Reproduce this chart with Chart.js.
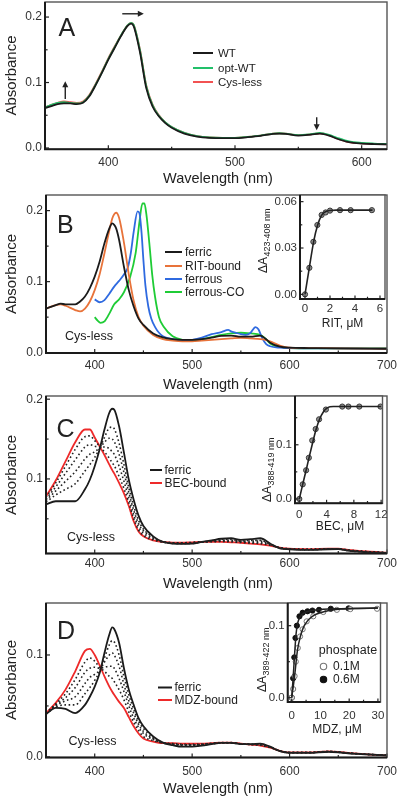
<!DOCTYPE html>
<html><head><meta charset="utf-8">
<script src="https://cdn.jsdelivr.net/npm/chart.js@4.4.1/dist/chart.umd.min.js"></script>
<style>
html,body{margin:0;padding:0;background:#fff;}
body{width:400px;height:800px;position:relative;overflow:hidden;}
canvas{position:absolute;left:0;top:0;}
</style></head><body>
<canvas id="cA" width="400" height="800"></canvas>
<canvas id="cB" width="400" height="800"></canvas>
<canvas id="cC" width="400" height="800"></canvas>
<canvas id="cD" width="400" height="800"></canvas>
<canvas id="iB" width="400" height="800"></canvas>
<canvas id="iC" width="400" height="800"></canvas>
<canvas id="iD" width="400" height="800"></canvas>
<script>
// ================= DATA =================
// Panel A
const wlA = [350,355,360,365,370,375,380,385,390,395,400,405,410,415,418,420,425,430,435,440,445,450,460,470,480,490,500,510,520,530,535,540,550,560,567,575,580,590,600,610,620];
const aWT = [.061,.064,.067,.068,.068,.067,.069,.079,.096,.115,.135,.153,.171,.186,.190,.186,.146,.091,.063,.048,.038,.031,.022,.0175,.0155,.015,.015,.0165,.0185,.0215,.022,.0215,.019,.0205,.022,.0185,.0145,.0088,.0068,.006,.0056];
const aOptWT = [.062,.066,.069,.070,.069,.068,.070,.080,.097,.116,.136,.154,.172,.187,.191,.188,.149,.094,.065,.049,.039,.032,.023,.018,.016,.0155,.0155,.017,.019,.022,.0225,.022,.0197,.0212,.023,.0195,.016,.010,.0078,.0068,.0062];
const aCysLess = [.062,.066,.069,.071,.070,.069,.071,.081,.098,.117,.137,.155,.172,.187,.191,.188,.150,.095,.066,.050,.039,.032,.023,.018,.016,.0155,.0155,.017,.019,.022,.0225,.022,.0195,.021,.0225,.019,.015,.009,.007,.006,.0057];
const xTicksA = [400,500,600];
const yTicksA = [0,0.1,0.2];

// Panel B
const wlB = [350,360,365,370,380,385,390,395,400,405,410,415,418,420,422,425,430,435,440,445,450,460,470,480,490,500,510,520,530,540,550,560,570,575,580,590,600,620,650,700];
const bFerric = [.062,.067,.069,.068,.068,.072,.079,.091,.107,.128,.154,.175,.182,.180,.175,.159,.121,.088,.065,.048,.039,.027,.0216,.019,.018,.018,.019,.021,.0235,.024,.0225,.0225,.024,.020,.014,.0085,.007,.0065,.006,.0055];
const bRIT = [.062,.067,.068,.066,.060,.058,.062,.072,.088,.110,.140,.172,.189,.195,.197,.190,.155,.110,.073,.050,.038,.025,.019,.017,.016,.016,.017,.018,.019,.020,.021,.020,.019,.018,.016,.010,.007,.0065,.006,.0055];
const wlFerrous = [400,405,410,415,420,425,430,434,437,440,444,446,448,450,452,455,458,462,466,470,480,490,500,510,520,530,537,540,545,550,555,560,565,568,572,576,580,590,600,650,700];
const bFerrous = [.075,.071,.074,.083,.093,.101,.110,.120,.140,.170,.199,.196,.170,.130,.095,.065,.048,.036,.028,.023,.019,.017,.018,.021,.026,.029,.032,.030,.028,.026,.025,.028,.036,.033,.020,.012,.009,.007,.0065,.006,.0055];
const wlFerrousCO = [400,403,406,410,415,420,425,430,436,442,446,449,451,453,456,459,462,466,471,480,490,500,510,520,530,540,550,560,570,575,580,590,600,650,700];
const bFerrousCO = [.050,.045,.042,.044,.055,.068,.075,.085,.105,.140,.185,.210,.210,.195,.155,.110,.078,.050,.036,.023,.018,.017,.019,.022,.025,.027,.028,.027,.025,.020,.013,.008,.0065,.006,.006];
const xTicksBCD = [400,500,600,700];
const yTicksB = [0,0.1,0.2];
// inset B (RIT titration)
const ritConc = [0,0.35,0.67,0.99,1.33,1.65,2.0,2.8,3.65,5.35];
const ritDA = [0,0.0172,0.034,0.0449,0.0514,0.053,0.0542,0.0545,0.0545,0.0545];
const ritFitConc = [0,0.35,0.7,1.0,1.3,1.6,2.0,2.5,3,4,5.4];
const ritFitDA = [0,0.0175,0.0345,0.0445,0.0508,0.0533,0.0543,0.0545,0.0545,0.0545,0.0545];
const xTicksIB = [0,2,4,6];
const yTicksIB = [0,0.03,0.06];

// Panel C
const wlC = [350,360,370,380,390,395,400,405,410,415,418,420,425,430,435,440,445,450,460,470,480,490,500,510,520,530,540,550,560,570,580,590,600,620,640,650,660,680,700];
const cFerric = [.068,.072,.072,.072,.087,.099,.116,.137,.162,.183,.188,.187,.166,.133,.099,.074,.054,.041,.028,.021,.019,.0185,.019,.021,.023,.025,.0256,.0235,.0244,.0256,.019,.013,.0118,.011,.0118,.012,.010,.008,.0072];
const cStep1 = [.071,.080,.087,.094,.110,.118,.127,.138,.152,.164,.165,.163,.145,.118,.089,.066,.048,.037,.027,.021,.019,.019,.019,.021,.022,.024,.024,.022,.023,.023,.018,.013,.012,.011,.012,.012,.010,.008,.007];
const cStep2 = [.073,.085,.097,.109,.125,.131,.134,.139,.146,.151,.150,.147,.131,.108,.083,.061,.044,.035,.026,.021,.0195,.019,.020,.021,.022,.023,.023,.022,.022,.022,.018,.0135,.012,.0115,.012,.012,.0105,.0085,.0073];
const cStep3 = [.075,.090,.107,.124,.140,.143,.141,.140,.140,.138,.134,.131,.116,.097,.076,.055,.040,.032,.025,.021,.020,.0195,.020,.021,.0216,.022,.022,.021,.020,.020,.017,.0137,.0123,.0117,.0123,.0124,.0107,.0087,.0074];
const cStep4 = [.077,.095,.116,.137,.153,.154,.148,.141,.134,.126,.120,.117,.103,.088,.070,.050,.036,.029,.0235,.021,.020,.020,.0204,.021,.0212,.0215,.021,.0204,.0196,.0189,.0168,.0139,.0124,.0119,.0124,.0125,.0109,.0089,.0075];
const cBEC = [.078,.098,.122,.146,.162,.162,.152,.141,.130,.118,.111,.107,.095,.082,.066,.047,.034,.028,.023,.021,.020,.020,.0205,.021,.021,.021,.0205,.020,.019,.018,.0165,.014,.0125,.012,.0125,.0125,.011,.009,.0075];
const yTicksC = [0.1,0.2];
// inset C (BEC titration)
const becConc = [0,0.5,1,1.4,1.9,2.4,2.9,3.9,6.3,7.2,8.8,11.9];
const becDA = [0,0.027,0.053,0.076,0.108,0.129,0.147,0.165,0.1705,0.1705,0.1705,0.1705];
const becFitConc = [0,0.5,1,1.5,2,2.5,3,3.5,4,4.5,5,6,12];
const becFitDA = [0,0.027,0.053,0.080,0.106,0.130,0.148,0.160,0.167,0.170,0.1705,0.1705,0.1705];
const xTicksIC = [0,4,8,12];
const yTicksIC = [0,0.1];

// Panel D
const wlD = wlC;
const dFerric = [.042,.048,.047,.043,.051,.059,.069,.082,.102,.120,.127,.1255,.112,.087,.066,.051,.038,.030,.020,.014,.0115,.010,.010,.011,.0125,.0138,.0138,.0125,.0125,.013,.010,.0056,.004,.004,.005,.0045,.0035,.0025,.0015];
const dStep1 = [.042,.049,.051,.051,.062,.068,.075,.084,.097,.110,.114,.113,.100,.079,.061,.047,.035,.028,.019,.014,.0119,.0106,.0106,.0114,.0127,.0138,.0138,.0126,.0124,.0126,.0098,.0057,.0041,.0041,.0051,.0046,.0036,.0025,.0015];
const dStep2 = [.042,.050,.055,.059,.072,.078,.081,.085,.093,.100,.102,.100,.089,.071,.055,.043,.032,.025,.018,.0138,.0123,.0112,.0112,.0118,.0129,.0139,.0139,.0127,.0123,.0122,.0096,.0058,.0042,.0042,.0052,.0047,.0037,.0025,.0015];
const dStep3 = [.043,.051,.058,.068,.083,.087,.088,.087,.088,.089,.089,.087,.077,.064,.050,.038,.029,.023,.017,.0137,.0127,.0118,.0118,.0122,.0131,.0139,.0139,.0128,.0122,.0118,.0094,.0058,.0043,.0043,.0053,.0048,.0038,.0025,.0015];
const dStep4 = [.043,.052,.062,.076,.093,.097,.094,.088,.084,.079,.077,.074,.066,.056,.044,.034,.026,.020,.016,.0136,.0131,.0124,.0124,.0126,.0133,.014,.014,.0129,.0121,.0114,.0092,.0059,.0044,.0044,.0054,.0049,.0039,.0025,.0015];
const dMDZ = [.043,.053,.066,.084,.104,.106,.100,.090,.079,.069,.064,.061,.054,.048,.039,.030,.023,.018,.015,.0135,.0135,.013,.013,.013,.0135,.014,.014,.013,.012,.011,.009,.006,.0045,.0045,.0055,.005,.004,.0025,.0015];
const yTicksD = [0,0.1];
// inset D (MDZ titration, two phosphate concentrations)
const mdzConc01 = [0,0.5,1,1.4,2.1,2.9,3.8,5.2,7.5,11,15.7,20.4,29.7];
const mdzDA01 = [0,0.012,0.030,0.050,0.069,0.085,0.095,0.106,0.113,0.119,0.122,0.123,0.1235];
const mdzConc06 = [0,0.5,0.9,1.3,1.8,2.7,3.8,5.5,7.2,9.5,13.6,19.8];
const mdzDA06 = [0,0.027,0.056,0.083,0.100,0.113,0.118,0.120,0.121,0.122,0.1235,0.124];
const mdzFitConc01 = [0,1,2,3,4,5,6,8,10,13,17,22,30];
const mdzFitDA01 = [0,0.030,0.066,0.085,0.097,0.104,0.109,0.115,0.118,0.121,0.123,0.124,0.1245];
const mdzFitConc06 = [0,0.5,1,1.5,2,2.5,3,4,5,7,10,15,20,30];
const mdzFitDA06 = [0,0.028,0.060,0.088,0.102,0.109,0.113,0.117,0.119,0.121,0.1225,0.1235,0.124,0.1245];
const xTicksID = [0,10,20,30];
const yTicksID = [0,0.1];

// ================= RENDERING =================
const FONT = "'Liberation Sans', Arial, Helvetica, sans-serif";
Chart.defaults.font.family = FONT;
Chart.defaults.color = '#2a2a2a';
const pts = (xs, ys) => xs.map((x, i) => ({x: x, y: ys[i]}));

function drawItem(c, t, xs, ys) {
  c.save();
  c.fillStyle = t.color || '#222';
  c.strokeStyle = t.color || '#222';
  if (t.k === 'text') {
    c.font = (t.size || 12) + 'px ' + FONT;
    c.textAlign = t.align || 'left';
    c.textBaseline = t.base || 'middle';
    c.translate(t.x, t.y);
    if (t.rot) c.rotate(t.rot * Math.PI / 180);
    c.fillText(t.t, 0, 0);
  } else if (t.k === 'dA') {
    c.translate(t.x, t.y);
    c.rotate(-Math.PI / 2);
    c.textAlign = 'left'; c.textBaseline = 'alphabetic';
    c.font = '12px ' + FONT;
    c.fillText('ΔA', 0, 0);
    const w = c.measureText('ΔA').width;
    c.font = '9px ' + FONT;
    c.fillText(t.sub, w + 0.5, 3);
  } else if (t.k === 'leg') {
    c.lineWidth = 2;
    c.beginPath(); c.moveTo(t.x1, t.y); c.lineTo(t.x2, t.y); c.stroke();
    c.fillStyle = '#222';
    c.font = (t.size || 12) + 'px ' + FONT;
    c.textAlign = 'left'; c.textBaseline = 'middle';
    c.fillText(t.t, t.tx, t.y + 0.5);
  } else if (t.k === 'arrow') {
    const x1 = xs.getPixelForValue(t.x1), y1 = ys.getPixelForValue(t.y1);
    const x2 = xs.getPixelForValue(t.x2), y2 = ys.getPixelForValue(t.y2);
    const ang = Math.atan2(y2 - y1, x2 - x1), L = 6, H = 3;
    c.lineWidth = 1.4;
    c.beginPath(); c.moveTo(x1, y1);
    c.lineTo(x2 - Math.cos(ang) * L * 0.8, y2 - Math.sin(ang) * L * 0.8); c.stroke();
    c.beginPath();
    c.moveTo(x2, y2);
    c.lineTo(x2 - Math.cos(ang) * L - Math.sin(ang) * H, y2 - Math.sin(ang) * L + Math.cos(ang) * H);
    c.lineTo(x2 - Math.cos(ang) * L + Math.sin(ang) * H, y2 - Math.sin(ang) * L - Math.cos(ang) * H);
    c.closePath(); c.fill();
  } else if (t.k === 'circle') {
    c.beginPath(); c.arc(t.x, t.y, t.r, 0, Math.PI * 2);
    c.fillStyle = t.fill; c.fill();
    c.lineWidth = 1.1; c.strokeStyle = t.stroke; c.stroke();
  }
  c.restore();
}

const deco = {
  id: 'deco',
  beforeDraw(chart, args, o) {
    if (!o.whiteBg) return;
    const a = chart.chartArea, c = chart.ctx;
    c.save(); c.fillStyle = '#fff';
    c.fillRect(a.left, a.top, a.right - a.left, a.bottom - a.top);
    c.restore();
  },
  afterDraw(chart, args, o) {
    const c = chart.ctx, a = chart.chartArea, xs = chart.scales.x, ys = chart.scales.y;
    c.save();
    const seg = (x1, y1, x2, y2) => { c.beginPath(); c.moveTo(x1, y1); c.lineTo(x2, y2); c.stroke(); };
    c.strokeStyle = '#222'; c.lineWidth = 1.2;
    const tl = o.tl || 4;
    (o.xMajor || []).forEach(v => { const p = xs.getPixelForValue(v); seg(p, a.bottom, p, a.bottom - tl); });
    (o.xMinor || []).forEach(v => { const p = xs.getPixelForValue(v); seg(p, a.bottom, p, a.bottom - tl * 0.65); });
    (o.yMajor || []).forEach(v => { const p = ys.getPixelForValue(v); seg(a.left, p, a.left + tl, p); });
    (o.yMinor || []).forEach(v => { const p = ys.getPixelForValue(v); seg(a.left, p, a.left + tl * 0.65, p); });
    c.strokeStyle = '#555'; c.lineWidth = 1.4;
    c.strokeRect(a.left, a.top, a.right - a.left, a.bottom - a.top);
    c.strokeStyle = '#1a1a1a'; c.lineWidth = 2;
    c.beginPath(); c.moveTo(a.left, a.top); c.lineTo(a.left, a.bottom); c.lineTo(a.right, a.bottom); c.stroke();
    (o.texts || []).forEach(t => drawItem(c, t, xs, ys));
    c.restore();
  }
};

function makeChart(id, cfg) {
  const zeroPad = s => { s.paddingLeft = 0; s.paddingRight = 0; s.paddingTop = 0; s.paddingBottom = 0; };
  return new Chart(document.getElementById(id), {
    type: 'line',
    data: { datasets: cfg.datasets },
    options: {
      responsive: false, animation: false, events: [],
      layout: { padding: { left: 0, top: cfg.box.top, right: 400 - cfg.box.right, bottom: 0 } },
      plugins: { legend: { display: false }, tooltip: { enabled: false }, deco: cfg.deco },
      scales: {
        x: {
          type: 'linear', min: cfg.xr[0], max: cfg.xr[1],
          grid: { display: false, drawTicks: false }, border: { display: false },
          afterBuildTicks: s => { s.ticks = cfg.xTicks.map(v => ({ value: v })); },
          afterFit: s => { s.height = 800 - cfg.box.bottom; zeroPad(s); },
          ticks: { autoSkip: false, maxRotation: 0, minRotation: 0, padding: cfg.xPad,
                   font: { size: cfg.tick }, color: '#333', callback: cfg.xFmt || (v => String(v)) }
        },
        y: {
          type: 'linear', min: cfg.yr[0], max: cfg.yr[1],
          grid: { display: false, drawTicks: false }, border: { display: false },
          afterBuildTicks: s => { s.ticks = cfg.yTicks.map(v => ({ value: v })); },
          afterFit: s => { s.width = cfg.box.left; zeroPad(s); },
          ticks: { autoSkip: false, padding: 3, font: { size: cfg.tick }, color: '#333',
                   callback: cfg.yFmt || (v => v.toFixed(1)) }
        }
      }
    },
    plugins: [deco]
  });
}

const line = (xs, ys, color, extra) => Object.assign({
  data: pts(xs, ys), borderColor: color, borderWidth: 1.8, pointRadius: 0,
  fill: false, cubicInterpolationMode: 'monotone'
}, extra || {});
const dots = (xs, ys, fillC, strokeC) => ({
  data: pts(xs, ys), showLine: false, pointRadius: 2.6, pointBorderWidth: 1,
  pointBackgroundColor: fillC, pointBorderColor: strokeC, borderColor: strokeC
});
const dotted = (xs, ys) => line(xs, ys, '#222', { borderWidth: 1.6, borderDash: [1.6, 2.6] });

const BLACK = '#1b1b1b', RED = '#ee2a2a';

// ---- Panel A
makeChart('cA', {
  box: { left: 45, right: 387, top: 2, bottom: 149.3 }, xr: [350, 620], yr: [-0.002, 0.223],
  xTicks: xTicksA, yTicks: yTicksA, tick: 12, xPad: 6,
  datasets: [
    line(wlA, aWT, BLACK),
    line(wlA, aOptWT, '#22c06a'),
    line(wlA, aCysLess, '#f25252')
  ],
  deco: {
    xMajor: xTicksA, xMinor: [450, 550], yMajor: yTicksA, yMinor: [0.05, 0.15],
    texts: [
      { k: 'text', t: 'A', x: 58.5, y: 36, size: 25, base: 'alphabetic' },
      { k: 'text', t: 'Absorbance', x: 11.5, y: 75.5, size: 15, rot: -90, align: 'center' },
      { k: 'text', t: 'Wavelength (nm)', x: 218, y: 178.5, size: 14.5, align: 'center' },
      { k: 'leg', x1: 193, x2: 213, tx: 218, y: 53, color: BLACK, t: 'WT', size: 11.5 },
      { k: 'leg', x1: 193, x2: 213, tx: 218, y: 68, color: '#22c06a', t: 'opt-WT', size: 11.5 },
      { k: 'leg', x1: 193, x2: 213, tx: 218, y: 82, color: '#f25252', t: 'Cys-less', size: 11.5 },
      { k: 'arrow', x1: 366, y1: 0.075, x2: 366, y2: 0.102 },
      { k: 'arrow', x1: 411, y1: 0.205, x2: 428, y2: 0.205 },
      { k: 'arrow', x1: 564.5, y1: 0.047, x2: 564.5, y2: 0.027 }
    ]
  }
});

// ---- Panel B
const ORANGE = '#e8733a', BLUE = '#2f6ae0', GREEN = '#1fcc36';
makeChart('cB', {
  box: { left: 46, right: 387, top: 195, bottom: 353 }, xr: [350, 700], yr: [-0.0005, 0.222],
  xTicks: xTicksBCD, yTicks: yTicksB, tick: 12, xPad: 5,
  datasets: [
    line(wlB, bFerric, BLACK),
    line(wlB, bRIT, ORANGE),
    line(wlFerrous, bFerrous, BLUE),
    line(wlFerrousCO, bFerrousCO, GREEN)
  ],
  deco: {
    xMajor: xTicksBCD, xMinor: [450, 550, 650], yMajor: yTicksB, yMinor: [0.05, 0.15],
    texts: [
      { k: 'text', t: 'B', x: 57, y: 233, size: 25, base: 'alphabetic' },
      { k: 'text', t: 'Absorbance', x: 11.5, y: 274, size: 15, rot: -90, align: 'center' },
      { k: 'text', t: 'Wavelength (nm)', x: 218, y: 385, size: 14.5, align: 'center' },
      { k: 'text', t: 'Cys-less', x: 89, y: 337, size: 12.5, align: 'center' },
      { k: 'leg', x1: 165, x2: 182, tx: 185, y: 252, color: BLACK, t: 'ferric' },
      { k: 'leg', x1: 165, x2: 182, tx: 185, y: 266, color: ORANGE, t: 'RIT-bound' },
      { k: 'leg', x1: 165, x2: 182, tx: 185, y: 279, color: BLUE, t: 'ferrous' },
      { k: 'leg', x1: 165, x2: 182, tx: 185, y: 292, color: GREEN, t: 'ferrous-CO' }
    ]
  }
});

// ---- Panel C
makeChart('cC', {
  box: { left: 46, right: 387, top: 396, bottom: 553.5 }, xr: [350, 700], yr: [0.0065, 0.204],
  xTicks: xTicksBCD, yTicks: yTicksC, tick: 12, xPad: 3,
  datasets: [
    dotted(wlC, cStep1), dotted(wlC, cStep2), dotted(wlC, cStep3), dotted(wlC, cStep4),
    line(wlC, cFerric, BLACK),
    line(wlC, cBEC, RED)
  ],
  deco: {
    xMajor: xTicksBCD, xMinor: [450, 550, 650], yMajor: yTicksC, yMinor: [0.05, 0.15],
    texts: [
      { k: 'text', t: 'C', x: 56.5, y: 437, size: 25, base: 'alphabetic' },
      { k: 'text', t: 'Absorbance', x: 11.5, y: 475, size: 15, rot: -90, align: 'center' },
      { k: 'text', t: 'Wavelength (nm)', x: 218, y: 583.5, size: 14.5, align: 'center' },
      { k: 'text', t: 'Cys-less', x: 91, y: 538, size: 12.5, align: 'center' },
      { k: 'leg', x1: 150, x2: 162, tx: 164.5, y: 470, color: BLACK, t: 'ferric' },
      { k: 'leg', x1: 150, x2: 162, tx: 164.5, y: 483, color: RED, t: 'BEC-bound' }
    ]
  }
});

// ---- Panel D
makeChart('cD', {
  box: { left: 46, right: 387, top: 603, bottom: 757.5 }, xr: [350, 700], yr: [-0.0006, 0.151],
  xTicks: xTicksBCD, yTicks: yTicksD, tick: 12, xPad: 7,
  datasets: [
    dotted(wlD, dStep1), dotted(wlD, dStep2), dotted(wlD, dStep3), dotted(wlD, dStep4),
    line(wlD, dFerric, BLACK),
    line(wlD, dMDZ, RED)
  ],
  deco: {
    xMajor: xTicksBCD, xMinor: [450, 550, 650], yMajor: yTicksD, yMinor: [0.05],
    texts: [
      { k: 'text', t: 'D', x: 57, y: 638.5, size: 25, base: 'alphabetic' },
      { k: 'text', t: 'Absorbance', x: 11.5, y: 680, size: 15, rot: -90, align: 'center' },
      { k: 'text', t: 'Wavelength (nm)', x: 218, y: 788.5, size: 14.5, align: 'center' },
      { k: 'text', t: 'Cys-less', x: 92.5, y: 742, size: 12.5, align: 'center' },
      { k: 'leg', x1: 158, x2: 172, tx: 174.5, y: 687.5, color: BLACK, t: 'ferric' },
      { k: 'leg', x1: 158, x2: 172, tx: 174.5, y: 700, color: RED, t: 'MDZ-bound' }
    ]
  }
});

// ---- Inset B
makeChart('iB', {
  box: { left: 300, right: 385, top: 195, bottom: 299 }, xr: [-0.4, 6.4], yr: [-0.003, 0.0643],
  xTicks: xTicksIB, yTicks: yTicksIB, tick: 11.5, xPad: 2.5, yFmt: v => v.toFixed(2),
  datasets: [
    line(ritFitConc, ritFitDA, '#222', { borderWidth: 1.6 }),
    dots(ritConc, ritDA, '#8e8e8e', '#3a3a3a')
  ],
  deco: {
    whiteBg: true, tl: 3.5,
    xMajor: xTicksIB, xMinor: [1, 3, 5], yMajor: yTicksIB, yMinor: [0.015, 0.045],
    texts: [
      { k: 'dA', x: 267, y: 273, sub: '423-408 nm' },
      { k: 'text', t: 'RIT, μM', x: 342.5, y: 323.5, size: 12, align: 'center' }
    ]
  }
});

// ---- Inset C
makeChart('iC', {
  box: { left: 295, right: 382.5, top: 396, bottom: 503.3 }, xr: [-0.63, 12.2], yr: [-0.008, 0.19],
  xTicks: xTicksIC, yTicks: yTicksIC, tick: 11.5, xPad: 4.5,
  datasets: [
    line(becFitConc, becFitDA, '#222', { borderWidth: 1.6 }),
    dots(becConc, becDA, '#8e8e8e', '#3a3a3a')
  ],
  deco: {
    whiteBg: true, tl: 3.5,
    xMajor: xTicksIC, xMinor: [2, 6, 10], yMajor: yTicksIC, yMinor: [0.05, 0.15],
    texts: [
      { k: 'dA', x: 271, y: 502, sub: '388-419 nm' },
      { k: 'text', t: 'BEC, μM', x: 340, y: 527, size: 12, align: 'center' }
    ]
  }
});

// ---- Inset D
makeChart('iD', {
  box: { left: 287.7, right: 380.5, top: 603, bottom: 702 }, xr: [-1.4, 30.9], yr: [-0.006, 0.1315],
  xTicks: xTicksID, yTicks: yTicksID, tick: 11.5, xPad: 7,
  datasets: [
    line(mdzFitConc01, mdzFitDA01, '#222', { borderWidth: 1.5 }),
    line(mdzFitConc06, mdzFitDA06, '#222', { borderWidth: 1.5 }),
    dots(mdzConc01, mdzDA01, '#ffffff', '#777'),
    dots(mdzConc06, mdzDA06, '#111111', '#111111')
  ],
  deco: {
    whiteBg: true, tl: 3.5,
    xMajor: xTicksID, xMinor: [5, 15, 25], yMajor: yTicksID, yMinor: [0.05],
    texts: [
      { k: 'dA', x: 266, y: 692, sub: '389-422 nm' },
      { k: 'text', t: 'MDZ, μM', x: 337, y: 730, size: 12, align: 'center' },
      { k: 'text', t: 'phosphate', x: 348, y: 651, size: 12.5, align: 'center' },
      { k: 'circle', x: 323.5, y: 666.5, r: 3.2, fill: '#fff', stroke: '#777' },
      { k: 'text', t: '0.1M', x: 333, y: 666.5, size: 12 },
      { k: 'circle', x: 323.5, y: 679.5, r: 3.2, fill: '#111', stroke: '#111' },
      { k: 'text', t: '0.6M', x: 333, y: 679.5, size: 12 }
    ]
  }
});
</script>
</body></html>
